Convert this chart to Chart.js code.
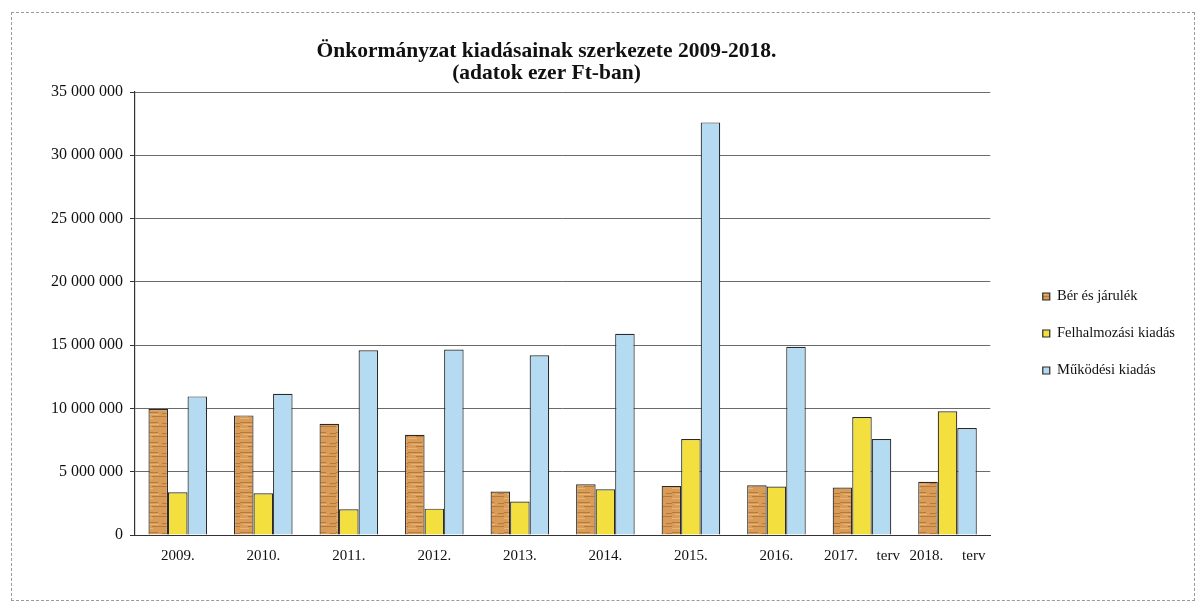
<!DOCTYPE html>
<html><head><meta charset="utf-8">
<script src="https://cdn.jsdelivr.net/npm/chart.js@4.4.1/dist/chart.umd.min.js"></script>
<style>
html,body{margin:0;padding:0;background:#fff;}
#wrap{position:relative;width:1202px;height:609px;}
#frame{position:absolute;left:11px;top:12px;width:1184px;height:589px;border:1px dashed #9a9a9a;box-sizing:border-box;pointer-events:none;}
canvas{position:absolute;left:0;top:0;}
</style></head>
<body>
<div id="wrap"><canvas id="c" width="1202" height="609"></canvas><div id="frame"></div></div>
<script>
const categories = ["2009.", "2010.", "2011.", "2012.", "2013.", "2014.", "2015.", "2016.", "2017.     terv", "2018.     terv"];
const berEsJarulek = [9950000, 9450000, 8790000, 7920000, 3430000, 4010000, 3880000, 3930000, 3750000, 4200000];
const felhalmozasi = [3380000, 3300000, 2030000, 2080000, 2640000, 3620000, 7580000, 3830000, 9320000, 9770000];
const mukodesi = [10950000, 11160000, 14600000, 14650000, 14200000, 15900000, 32600000, 14870000, 7580000, 8450000];
const seriesNames = ["Bér és járulék", "Felhalmozási kiadás", "Működési kiadás"];
const titleLines = ["Önkormányzat kiadásainak szerkezete 2009-2018.", "(adatok ezer Ft-ban)"];
const yTicks = [0, 5000000, 10000000, 15000000, 20000000, 25000000, 30000000, 35000000];

function woodPattern() {
  const p = document.createElement('canvas');
  p.width = 24; p.height = 10;
  const g = p.getContext('2d');
  g.fillStyle = '#d99c58'; g.fillRect(0, 0, 24, 10);
  g.fillStyle = '#b87a3a';
  g.fillRect(0, 2, 14, 1); g.fillRect(8, 6, 16, 1); g.fillRect(18, 3, 6, 1);
  g.fillStyle = '#e7b574';
  g.fillRect(3, 4, 12, 1); g.fillRect(0, 8, 9, 1);
  return g.createPattern(p, 'repeat');
}
const ctx = document.getElementById('c').getContext('2d');
const serif = "'Liberation Serif', 'Times New Roman', serif";
const pad = '\u00a0\u00a0\u00a0\u00a0\u00a0\u00a0';

new Chart(ctx, {
  type: 'bar',
  data: {
    labels: categories,
    datasets: [
      { label: seriesNames[0], data: berEsJarulek, backgroundColor: woodPattern(), borderColor: '#2a2a2a', borderWidth: 1.2 },
      { label: seriesNames[1], data: felhalmozasi, backgroundColor: '#f3e03e', borderColor: '#2a2a2a', borderWidth: 1.2 },
      { label: seriesNames[2], data: mukodesi, backgroundColor: '#b5dbf3', borderColor: '#2a2a2a', borderWidth: 1.2 }
    ]
  },
  options: {
    responsive: false,
    animation: false,
    layout: { padding: { top: 30, left: 0, right: 17, bottom: 32 } },
    datasets: { bar: { categoryPercentage: 0.685, barPercentage: 1.0 } },
    plugins: {
      title: {
        display: true, text: titleLines.map(t => t + pad), fullSize: false,
        color: '#111', font: { family: serif, size: 21.5, weight: 'bold', lineHeight: 1.0 },
        padding: { top: 11, bottom: 8 }
      },
      legend: {
        position: 'right',
        title: { display: true, text: '', font: { size: 10 }, padding: { top: 48, bottom: 0 } },
        labels: {
          color: '#111', font: { family: serif, size: 14.5 },
          boxWidth: 7, boxHeight: 7, padding: 22.5
        }
      },
      tooltip: { enabled: false }
    },
    scales: {
      x: {
        grid: { display: false, drawTicks: false },
        border: { display: true, color: '#333', width: 1 },
        ticks: { color: '#111', font: { family: serif, size: 15 }, padding: 12, maxRotation: 0, autoSkip: false }
      },
      y: {
        min: 0, max: 35000000,
        afterBuildTicks: s => { s.ticks = yTicks.map(v => ({ value: v })); },
        afterFit: s => { s.width = 135; },
        grid: { color: '#6a6a6a', lineWidth: 1, tickLength: 5, tickColor: '#333' },
        border: { display: true, color: '#333', width: 1.2 },
        ticks: {
          color: '#111', font: { family: serif, size: 16 }, padding: 7,
          callback: v => String(v).replace(/\B(?=(\d{3})+(?!\d))/g, ' ')
        }
      },
      yPad: {
        position: 'right', display: true,
        grid: { display: false, drawTicks: false },
        border: { display: false },
        ticks: { display: false },
        afterFit: s => { s.width = 30; }
      }
    }
  }
});
</script>
</body></html>
